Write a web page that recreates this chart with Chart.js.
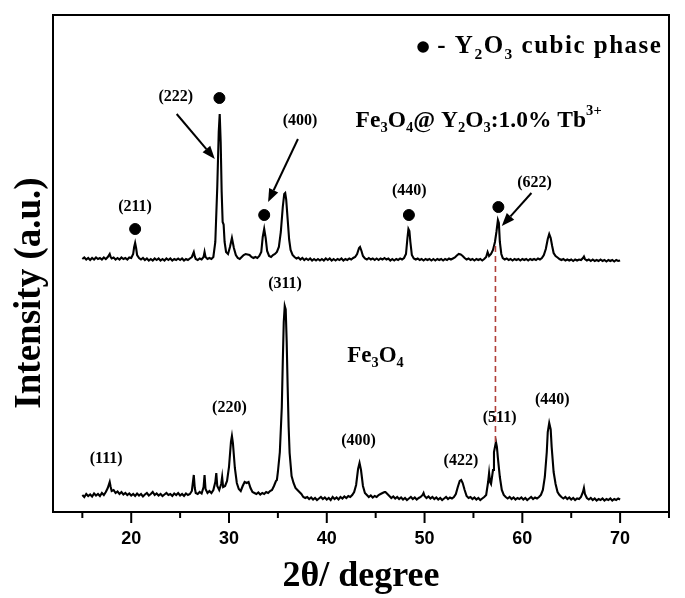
<!DOCTYPE html>
<html><head><meta charset="utf-8">
<script src="https://cdn.jsdelivr.net/npm/chart.js@4/dist/chart.umd.min.js"></script>
<style>html,body{margin:0;padding:0;background:#fff}#wrap{width:685px;height:598px;position:relative}</style>
</head><body><div id="wrap"><canvas id="c" width="685" height="598"></canvas></div>
<script>
// ---- data (2θ in degrees, intensity in arbitrary units) ----
const compositePattern = [
[15.0,506],[15.2,509],[15.4,505],[15.6,508],[15.8,504],[16.0,508],[16.2,505],[16.4,509],[16.6,506],[16.8,508],
[17.0,505],[17.2,509],[17.4,506],[17.6,510],[17.8,516],[17.9,510],[18.0,507],[18.2,509],[18.4,505],[18.6,508],
[18.8,505],[19.0,509],[19.2,506],[19.4,508],[19.6,505],[19.8,509],[20.0,508],[20.2,516],[20.3,530],[20.4,538],
[20.5,528],[20.6,514],[20.8,508],[21.0,505],[21.2,508],[21.4,504],[21.6,507],[21.8,503],[22.0,506],[22.2,503],
[22.4,507],[22.6,504],[22.8,507],[23.0,503],[23.2,506],[23.4,503],[23.6,507],[23.8,504],[24.0,507],[24.2,503],
[24.4,506],[24.6,504],[24.8,507],[25.0,504],[25.2,507],[25.4,503],[25.6,506],[25.8,504],[26.0,507],[26.2,510],
[26.4,520],[26.5,511],[26.6,506],[26.8,504],[27.0,507],[27.2,505],[27.4,510],[27.5,520],[27.6,510],[27.8,506],
[28.0,508],[28.2,506],[28.4,510],[28.6,540],[28.8,650],[28.95,760],[29.05,796],[29.15,740],[29.25,640],[29.35,580],
[29.45,575],[29.55,540],[29.7,520],[29.9,516],[30.1,530],[30.3,548],[30.5,528],[30.7,514],[30.9,508],[31.1,506],
[31.3,510],[31.5,514],[31.7,516],[31.9,515],[32.1,514],[32.3,510],[32.5,508],[32.7,510],[32.9,508],[33.1,512],
[33.3,520],[33.45,550],[33.6,566],[33.75,548],[33.9,522],[34.1,512],[34.3,510],[34.5,514],[34.7,516],[34.9,520],
[35.1,530],[35.3,560],[35.5,610],[35.65,636],[35.75,638],[35.85,625],[36.0,585],[36.15,545],[36.3,524],[36.5,514],
[36.7,510],[36.9,507],[37.1,509],[37.3,505],[37.5,508],[37.7,504],[37.9,507],[38.1,504],[38.3,507],[38.5,503],
[38.7,506],[38.9,503],[39.1,506],[39.3,503],[39.5,506],[39.7,503],[39.9,507],[40.1,504],[40.3,507],[40.5,503],
[40.7,506],[40.9,503],[41.1,506],[41.3,504],[41.5,507],[41.7,503],[41.9,506],[42.1,504],[42.3,507],[42.5,505],
[42.7,508],[42.9,510],[43.1,516],[43.3,528],[43.4,530],[43.55,522],[43.7,512],[43.9,507],[44.1,505],[44.3,508],
[44.5,505],[44.7,507],[44.9,504],[45.1,507],[45.3,504],[45.5,507],[45.7,505],[45.9,508],[46.1,505],[46.3,507],
[46.5,503],[46.7,506],[46.9,503],[47.1,506],[47.3,504],[47.5,507],[47.7,505],[47.9,508],[48.1,516],[48.25,548],
[48.35,566],[48.45,562],[48.55,540],[48.7,514],[48.9,507],[49.1,505],[49.3,507],[49.5,504],[49.7,506],[49.9,503],
[50.1,506],[50.3,504],[50.5,506],[50.7,503],[50.9,506],[51.1,503],[51.3,506],[51.5,504],[51.7,506],[51.9,503],
[52.1,506],[52.3,504],[52.5,507],[52.7,505],[52.9,507],[53.1,509],[53.3,513],[53.5,516],[53.7,515],[53.9,512],
[54.1,508],[54.3,505],[54.5,507],[54.7,504],[54.9,506],[55.1,503],[55.3,506],[55.5,504],[55.7,506],[55.9,503],
[56.1,506],[56.3,510],[56.45,520],[56.6,512],[56.8,516],[57.0,524],[57.2,540],[57.35,560],[57.5,584],[57.6,578],
[57.7,540],[57.85,516],[58.0,508],[58.2,505],[58.4,507],[58.6,504],[58.8,506],[59.0,503],[59.2,506],[59.4,504],
[59.6,506],[59.8,503],[60.0,506],[60.2,504],[60.4,506],[60.6,503],[60.8,506],[61.0,504],[61.2,506],[61.4,504],
[61.6,507],[61.8,505],[62.0,508],[62.2,514],[62.4,526],[62.6,546],[62.75,556],[62.9,548],[63.05,532],[63.2,518],
[63.4,512],[63.6,509],[63.8,506],[64.0,504],[64.2,506],[64.4,503],[64.6,505],[64.8,503],[65.0,505],[65.2,502],
[65.4,505],[65.6,503],[65.8,505],[66.0,504],[66.2,508],[66.3,511],[66.4,506],[66.6,503],[66.8,505],[67.0,502],
[67.2,505],[67.4,502],[67.6,504],[67.8,502],[68.0,505],[68.2,502],[68.4,504],[68.6,501],[68.8,504],[69.0,502],
[69.2,504],[69.4,501],[69.6,504],[69.8,502],[70.0,503]
];
const fe3o4Pattern = [
[15.0,34],[15.2,30],[15.4,36],[15.6,32],[15.8,35],[16.0,31],[16.2,37],[16.4,33],[16.6,36],[16.8,32],
[17.0,38],[17.2,34],[17.4,40],[17.6,48],[17.8,60],[17.9,50],[18.0,42],[18.2,44],[18.4,38],[18.6,41],
[18.8,36],[19.0,40],[19.2,35],[19.4,38],[19.6,34],[19.8,37],[20.0,33],[20.2,36],[20.4,32],[20.6,37],
[20.8,33],[21.0,36],[21.2,31],[21.4,35],[21.6,38],[21.8,33],[22.0,36],[22.2,40],[22.4,34],[22.6,37],
[22.8,33],[23.0,36],[23.2,32],[23.4,35],[23.6,38],[23.8,34],[24.0,36],[24.2,32],[24.4,37],[24.6,34],
[24.8,38],[25.0,33],[25.2,36],[25.4,32],[25.6,37],[25.8,34],[26.0,36],[26.2,42],[26.4,74],[26.5,48],
[26.6,38],[26.8,36],[27.0,40],[27.2,37],[27.4,50],[27.5,74],[27.6,46],[27.8,38],[28.0,42],[28.2,38],
[28.4,44],[28.6,60],[28.7,78],[28.8,52],[29.0,44],[29.2,56],[29.3,70],[29.4,50],[29.6,52],[29.8,62],
[30.0,90],[30.2,140],[30.3,152],[30.4,138],[30.6,88],[30.8,58],[31.0,46],[31.2,42],[31.4,52],[31.6,60],
[31.8,58],[32.0,60],[32.2,48],[32.4,40],[32.6,38],[32.8,36],[33.0,39],[33.2,35],[33.4,38],[33.6,36],
[33.8,40],[34.0,38],[34.2,42],[34.4,44],[34.6,52],[34.8,62],[34.9,64],[35.0,80],[35.2,120],[35.4,210],
[35.5,300],[35.6,380],[35.7,412],[35.8,405],[35.9,340],[36.0,250],[36.1,170],[36.2,118],[36.4,72],[36.6,58],
[36.8,48],[37.0,44],[37.2,40],[37.4,36],[37.6,30],[37.8,28],[38.0,30],[38.2,26],[38.4,29],[38.6,25],
[38.8,28],[39.0,24],[39.2,27],[39.4,30],[39.6,26],[39.8,29],[40.0,25],[40.2,28],[40.4,24],[40.6,30],
[40.8,26],[41.0,29],[41.2,25],[41.4,30],[41.6,27],[41.8,31],[42.0,28],[42.2,32],[42.4,30],[42.6,34],
[42.8,40],[43.0,54],[43.2,86],[43.35,98],[43.5,84],[43.7,52],[43.9,38],[44.1,34],[44.3,30],[44.5,33],
[44.7,29],[44.9,32],[45.1,30],[45.3,34],[45.5,36],[45.7,38],[45.9,40],[46.0,40],[46.2,36],[46.4,32],
[46.6,28],[46.8,31],[47.0,27],[47.2,30],[47.4,26],[47.6,29],[47.8,25],[48.0,28],[48.2,24],[48.4,27],
[48.6,30],[48.8,26],[49.0,29],[49.2,25],[49.4,28],[49.6,30],[49.8,34],[49.9,38],[50.0,32],[50.2,28],
[50.4,31],[50.6,27],[50.8,30],[51.0,26],[51.2,29],[51.4,25],[51.6,28],[51.8,24],[52.0,27],[52.2,30],
[52.4,26],[52.6,29],[52.8,27],[53.0,30],[53.2,36],[53.4,50],[53.6,62],[53.75,64],[53.9,58],[54.1,44],
[54.3,32],[54.5,28],[54.7,30],[54.9,26],[55.1,29],[55.3,25],[55.5,28],[55.7,24],[55.9,27],[56.1,30],
[56.3,34],[56.5,60],[56.6,78],[56.7,60],[56.8,56],[57.0,84],[57.1,120],[57.3,140],[57.4,130],[57.5,108],
[57.7,70],[57.9,44],[58.1,34],[58.3,30],[58.5,27],[58.7,30],[58.9,26],[59.1,29],[59.3,25],[59.5,28],
[59.7,26],[59.9,29],[60.1,25],[60.3,28],[60.5,24],[60.7,27],[60.9,30],[61.1,26],[61.3,29],[61.5,27],
[61.7,30],[61.9,34],[62.1,44],[62.3,70],[62.5,120],[62.6,160],[62.75,178],[62.9,165],[63.0,130],[63.2,80],
[63.4,56],[63.6,40],[63.8,34],[64.0,30],[64.2,27],[64.4,30],[64.6,26],[64.8,29],[65.0,25],[65.2,28],
[65.4,24],[65.6,27],[65.8,26],[66.0,30],[66.2,40],[66.3,48],[66.4,36],[66.6,28],[66.8,25],[67.0,28],
[67.2,24],[67.4,27],[67.6,23],[67.8,26],[68.0,24],[68.2,27],[68.4,23],[68.6,26],[68.8,24],[69.0,27],
[69.2,23],[69.4,26],[69.6,24],[69.8,27],[70.0,25]
];
// Y2O3 cubic-phase reflections marked with dots (2θ, marker height)
const cubicTheta = [20.4, 29.02, 33.6, 48.4, 57.55];
const cubicMarkHeight = [566, 828, 594, 594, 610];
// dashed guide through the Fe3O4 (511) reflection
const guideTheta = 57.25;
const guideRange = [140, 540];
// axis ticks
const xMajorTicks = [20, 30, 40, 50, 60, 70];
const xMinorTicks = [15, 25, 35, 45, 55, 65, 75];
const xTickLabels = ['20', '30', '40', '50', '60', '70'];
// peak (hkl) labels: text, 2θ, height
const hklText   = ['(211)','(222)','(400)','(440)','(622)','(111)','(220)','(311)','(400)','(422)','(511)','(440)'];
const hklTheta  = [20.39, 24.55, 37.26, 48.43, 61.24, 17.44, 30.04, 35.73, 43.25, 53.72, 57.68, 63.07];
const hklHeight = [610, 830, 782, 642, 658, 106, 208, 456, 142, 102, 188, 224];

const SERIF = '"Liberation Serif","Times New Roman",serif';
const SANS = '"Liberation Sans",Arial,sans-serif';

function drawRich(ctx, segs, x, y, size, align, spacing) {
  ctx.letterSpacing = (spacing || 0) + 'px';
  const widths = segs.map(s => {
    const fs = s[1] === 'n' ? size : size * 0.62;
    ctx.font = 'bold ' + fs + 'px ' + SERIF;
    return ctx.measureText(s[0]).width;
  });
  let total = widths.reduce((a, b) => a + b, 0);
  let cx = align === 'center' ? x - total / 2 : x;
  ctx.textBaseline = 'middle';
  ctx.textAlign = 'left';
  segs.forEach((s, i) => {
    const fs = s[1] === 'n' ? size : size * 0.62;
    ctx.font = 'bold ' + fs + 'px ' + SERIF;
    let dy = 0;
    if (s[1] === 'sub') dy = size * 0.32;
    if (s[1] === 'sup') dy = -size * 0.42;
    ctx.fillText(s[0], cx, y + dy);
    cx += widths[i];
  });
  ctx.letterSpacing = '0px';
}

function arrow(ctx, x1, y1, x2, y2) {
  const ang = Math.atan2(y2 - y1, x2 - x1);
  const L = 13, W = 5;
  const bx = x2 - L * Math.cos(ang), by = y2 - L * Math.sin(ang);
  ctx.beginPath(); ctx.moveTo(x1, y1); ctx.lineTo(bx, by);
  ctx.lineWidth = 2; ctx.strokeStyle = '#000'; ctx.stroke();
  ctx.beginPath();
  ctx.moveTo(x2, y2);
  ctx.lineTo(bx + W * Math.sin(ang), by - W * Math.cos(ang));
  ctx.lineTo(bx - W * Math.sin(ang), by + W * Math.cos(ang));
  ctx.closePath(); ctx.fillStyle = '#000'; ctx.fill();
}

const decor = {
  id: 'decor',
  afterDatasetsDraw(chart) {
    const ctx = chart.ctx, xs = chart.scales.x, ys = chart.scales.y, a = chart.chartArea;
    const X = v => xs.getPixelForValue(v), Y = v => ys.getPixelForValue(v);
    ctx.save();
    // frame
    ctx.strokeStyle = '#000'; ctx.lineWidth = 2;
    ctx.strokeRect(a.left, a.top, a.right - a.left, a.bottom - a.top);
    // x ticks (outward)
    xMajorTicks.forEach(v => { ctx.beginPath(); ctx.moveTo(X(v), a.bottom); ctx.lineTo(X(v), a.bottom + 11); ctx.stroke(); });
    xMinorTicks.forEach(v => { ctx.beginPath(); ctx.moveTo(X(v), a.bottom); ctx.lineTo(X(v), a.bottom + 6); ctx.stroke(); });
    // y axis title
    ctx.save();
    ctx.translate(30, 293); ctx.rotate(-Math.PI / 2);
    ctx.font = 'bold 37px ' + SERIF; ctx.fillStyle = '#000';
    ctx.textAlign = 'center'; ctx.textBaseline = 'middle';
    ctx.fillText('Intensity (a.u.)', 0, 0);
    ctx.restore();
    // hkl labels
    ctx.fillStyle = '#000';
    hklText.forEach((t, i) => drawRich(ctx, [[t, 'n']], X(hklTheta[i]), Y(hklHeight[i]), 16, 'center'));
    // arrows
    arrow(ctx, X(24.65), Y(796), X(28.55), Y(706));
    arrow(ctx, X(37.05), Y(746), X(34.0), Y(620));
    arrow(ctx, X(60.93), Y(638), X(57.9), Y(572));
    // sample names
    drawRich(ctx, [['Fe','n'],['3','sub'],['O','n'],['4','sub'],['@ Y','n'],['2','sub'],['O','n'],['3','sub'],[':1.0% Tb','n'],['3+','sup']],
      X(42.95), Y(782), 23.5, 'left');
    drawRich(ctx, [['Fe','n'],['3','sub'],['O','n'],['4','sub']], X(42.1), Y(312), 23, 'left');
    // legend
    ctx.beginPath(); ctx.arc(X(49.85), Y(930), 5.8, 0, Math.PI * 2); ctx.fillStyle = '#000'; ctx.fill();
    drawRich(ctx, [['- Y','n'],['2','sub'],['O','n'],['3','sub'],[' cubic phase','n']], X(51.3), Y(930), 25, 'left', 1.5);
    ctx.restore();
  }
};

const toPts = arr => arr.map(p => ({x: p[0], y: p[1]}));

new Chart(document.getElementById('c'), {
  type: 'line',
  data: {
    datasets: [
      { label: 'guide', data: guideRange.map(v => ({x: guideTheta, y: v})), borderColor: '#b0403a',
        borderWidth: 1.6, borderDash: [6, 4], pointRadius: 0, fill: false },
      { type: 'scatter', label: 'Y2O3 cubic phase', data: cubicTheta.map((t, i) => ({x: t, y: cubicMarkHeight[i]})),
        backgroundColor: '#000', borderColor: '#000', pointRadius: 5.5, pointHoverRadius: 5.5 },
      { label: 'Fe3O4@Y2O3:1.0% Tb3+', data: toPts(compositePattern), borderColor: '#000', borderWidth: 2.1,
        pointRadius: 0, fill: false, tension: 0 },
      { label: 'Fe3O4', data: toPts(fe3o4Pattern), borderColor: '#000', borderWidth: 2.1,
        pointRadius: 0, fill: false, tension: 0 }
    ]
  },
  options: {
    responsive: false, animation: false, devicePixelRatio: 1,
    layout: { padding: { top: 15, right: 13, left: 0, bottom: 0 } },
    plugins: { legend: { display: false }, tooltip: { enabled: false } },
    scales: {
      x: {
        type: 'linear', min: 12, max: 75,
        afterFit: s => { s.height = 86; },
        afterBuildTicks: s => { s.ticks = xMajorTicks.concat(xMinorTicks).sort((a, b) => a - b).map(v => ({value: v})); },
        ticks: {
          autoSkip: false, maxRotation: 0, padding: 16, color: '#000',
          font: { family: SANS, size: 18, weight: 'bold' },
          callback: v => { const i = xMajorTicks.indexOf(v); return i >= 0 ? xTickLabels[i] : ''; }
        },
        grid: { display: false, drawTicks: false },
        border: { display: false },
        title: { display: true, text: '2θ/ degree', color: '#000',
          font: { family: SERIF, size: 36, weight: 'bold' }, padding: { top: 0, bottom: 0 } }
      },
      y: {
        min: 0, max: 994,
        afterFit: s => { s.width = 53; },
        ticks: { display: false },
        grid: { display: false, drawTicks: false },
        border: { display: false },
        title: { display: false }
      }
    }
  },
  plugins: [decor]
});
</script>
</body></html>
